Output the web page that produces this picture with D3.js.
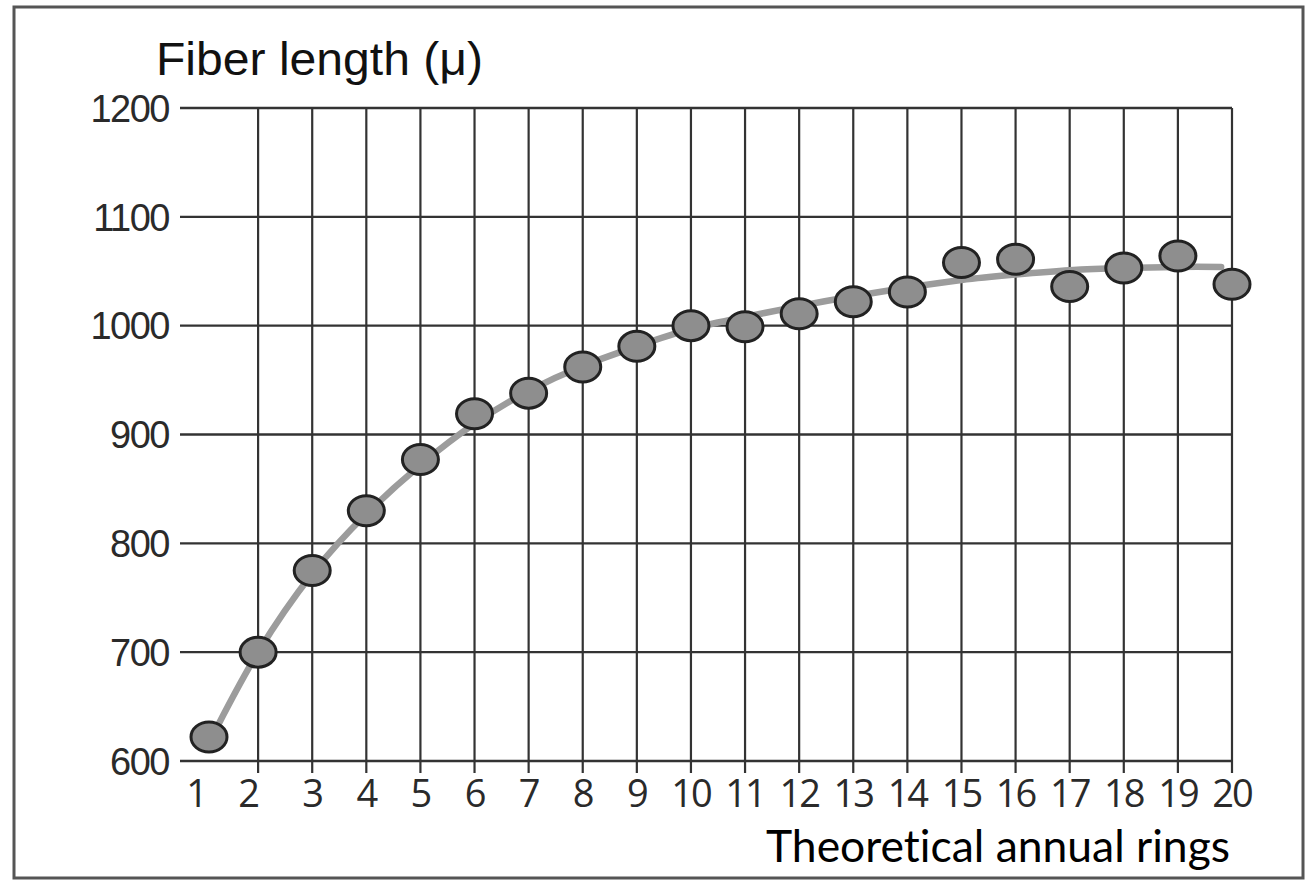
<!DOCTYPE html>
<html>
<head>
<meta charset="utf-8">
<script src="https://cdn.jsdelivr.net/npm/d3@7"></script>
<style>
 body { margin: 0; background: #fff; }
 svg { display: block; }
 text { font-variant-ligatures: none; }
</style>
</head>
<body>
<script>

// measured points (fiber length per ring)
var rings = [1, 2, 3, 4, 5, 6, 7, 8, 9, 10, 11, 12, 13, 14, 15, 16, 17, 18, 19, 20]
var fiberLength = [622, 700, 775, 830, 877, 919, 938, 962, 981, 1000, 999, 1011, 1022, 1031, 1058, 1061, 1036, 1053, 1064, 1038]

// fitted trend curve
var fitRings = [1.25, 2, 3, 4, 5, 6, 7, 8, 9, 10, 11, 12, 13, 14, 15, 16, 17, 18, 19, 19.8]
var fitLength = [632, 700, 772, 827, 872, 910, 940, 963, 981, 997, 1008, 1018, 1027, 1035, 1042, 1047, 1051, 1053, 1054, 1054]

var yTicks = [600, 700, 800, 900, 1000, 1100, 1200]
var xTicks = rings

var W = 1306, H = 880

var svg = d3.select('body').append('svg').attr('width', W).attr('height', H)

// outer frame
svg.append('rect').attr('x', 14).attr('y', 7).attr('width', 1289).attr('height', 871)
  .attr('fill', '#fff').attr('stroke', '#555').attr('stroke-width', 3)

var x = d3.scaleLinear().domain([1, 20]).range([204, 1232])
var y = d3.scaleLinear().domain([600, 1200]).range([761, 108])

var grid = svg.append('g').attr('class', 'grid')

// horizontal lines
grid.selectAll('.hline').data(yTicks).enter().append('line')
  .attr('x1', 180).attr('x2', x(20))
  .attr('y1', function(d) { return y(d) }).attr('y2', function(d) { return y(d) })
  .attr('stroke', '#333').attr('stroke-width', 2.4)

// vertical lines (none at ring 1), running a bit below the axis as ticks
grid.selectAll('.vline').data(xTicks.slice(1)).enter().append('line')
  .attr('x1', function(d) { return x(d) }).attr('x2', function(d) { return x(d) })
  .attr('y1', y(1200)).attr('y2', y(600) + 12)
  .attr('stroke', '#333').attr('stroke-width', 2.2)

// y tick labels
svg.append('g').selectAll('text').data(yTicks).enter().append('text')
  .attr('x', 169).attr('y', function(d) { return y(d) })
  .attr('dy', '0.36em').attr('text-anchor', 'end')
  .style('font-family', 'Liberation Sans, Arial, sans-serif').style('font-size', '38px')
  .style('letter-spacing', '-1.5px')
  .attr('fill', '#2a2a2a').text(function(d) { return d })

// x tick labels
svg.append('g').selectAll('text').data(xTicks).enter().append('text')
  .attr('x', function(d) { return d == 1 ? x(d) - 8 : (d == 2 ? x(d) - 10 : x(d)) })
  .attr('y', 807).attr('text-anchor', 'middle')
  .style('font-family', 'Open Sans, sans-serif').style('font-size', '38px')
  .style('letter-spacing', '-2px')
  .attr('fill', '#2a2a2a').text(function(d) { return d })

// axis titles
svg.append('text').attr('x', 156).attr('y', 75)
  .style('font-family', 'Liberation Sans, Arial, sans-serif').style('font-size', '47px')
  .attr('fill', '#111').attr('textLength', 327).attr('lengthAdjust', 'spacingAndGlyphs')
  .text('Fiber length (\u03bc)')

svg.append('text').attr('x', 766).attr('y', 862)
  .style('font-family', 'Lato, sans-serif').style('font-size', '44px')
  .attr('fill', '#000').attr('textLength', 464).attr('lengthAdjust', 'spacingAndGlyphs')
  .text('Theoretical annual rings')

// trend curve
var fit = fitRings.map(function(r, i) { return { ring: r, len: fitLength[i] } })

var line = d3.line().curve(d3.curveNatural)
  .x(function(d) { return x(d.ring) })
  .y(function(d) { return y(d.len) })

svg.append('path').datum(fit).attr('d', line)
  .attr('fill', 'none').attr('stroke', '#9c9c9c').attr('stroke-width', 6.5)
  .attr('stroke-linecap', 'round')

// points
var pts = rings.map(function(r, i) { return { ring: r, len: fiberLength[i] } })

svg.append('g').selectAll('ellipse').data(pts).enter().append('ellipse')
  .attr('cx', function(d) { return d.ring == 1 ? x(d.ring) + 5 : x(d.ring) })
  .attr('cy', function(d) { return y(d.len) })
  .attr('rx', 18).attr('ry', 15)
  .attr('fill', '#8e8e8e').attr('stroke', '#222').attr('stroke-width', 3)

</script>
</body>
</html>
